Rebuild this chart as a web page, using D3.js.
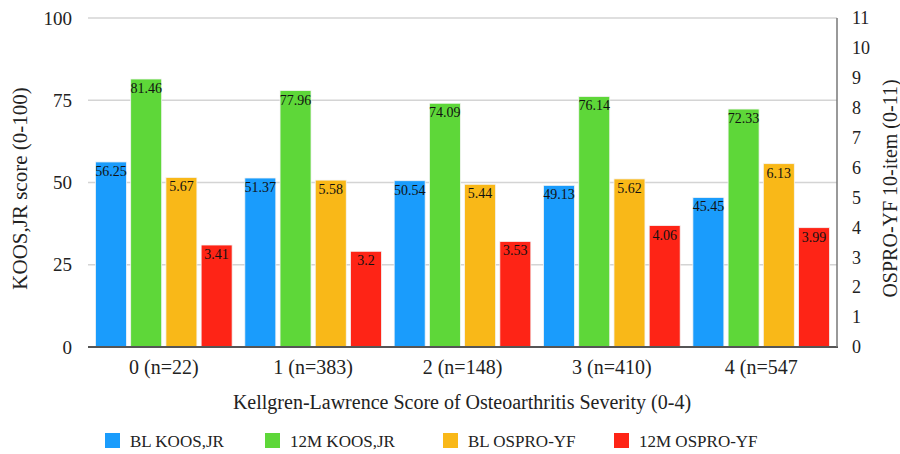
<!DOCTYPE html>
<html><head><meta charset="utf-8">
<script src="https://cdn.jsdelivr.net/npm/d3@7"></script>
<style>body{margin:0;background:#fff;} svg{display:block;} svg text{font-family:"Liberation Serif","Times New Roman",serif !important;}</style>
</head><body>
<svg id="c" width="900" height="454"></svg>
<script>
const categories = ["0 (n=22)", "1 (n=383)", "2 (n=148)", "3 (n=410)", "4 (n=547"];
const seriesNames = ["BL KOOS,JR", "12M KOOS,JR", "BL OSPRO-YF", "12M OSPRO-YF"];
const seriesColors = ["#1a9cfc", "#5ed739", "#f9b818", "#fe2416"];
const seriesAxis = ["left", "left", "right", "right"];
const blKoos = [56.25, 51.37, 50.54, 49.13, 45.45];
const m12Koos = [81.46, 77.96, 74.09, 76.14, 72.33];
const blOspro = [5.67, 5.58, 5.44, 5.62, 6.13];
const m12Ospro = [3.41, 3.2, 3.53, 4.06, 3.99];
const leftTicks = [0, 25, 50, 75, 100];
const rightTicks = [0,1,2,3,4,5,6,7,8,9,10,11];
const seriesValues = [blKoos, m12Koos, blOspro, m12Ospro];

const FONT = "Liberation Serif";
const svg = d3.select("#c");
const L = 88, R = 837, T = 18, B = 347;
const yL = d3.scaleLinear().domain([0, 100]).range([B, T]);
const yR = d3.scaleLinear().domain([0, 11]).range([B, T]);
const x0 = d3.scaleBand().domain(categories).range([L, R]).paddingInner(0.085).paddingOuter(0.05);
const x1 = d3.scaleBand().domain(seriesNames).range([0, x0.bandwidth()]).paddingInner(0.12);

// gridlines
svg.append("g").selectAll("line").data(leftTicks.filter(d => d > 0)).join("line")
  .attr("x1", L).attr("x2", R).attr("y1", d => yL(d)).attr("y2", d => yL(d))
  .attr("stroke", "#d4d4d4").attr("stroke-width", 1.5);

// bars
const groups = svg.append("g").selectAll("g").data(categories).join("g")
  .attr("transform", d => `translate(${x0(d)},0)`);
groups.each(function(cat, ci) {
  const g = d3.select(this);
  seriesNames.forEach((s, si) => {
    const v = seriesValues[si][ci];
    const y = seriesAxis[si] === "left" ? yL : yR;
    g.append("rect").attr("x", x1(s)).attr("width", x1.bandwidth())
      .attr("y", y(v)).attr("height", B - y(v))
      .attr("fill", seriesColors[si]).attr("stroke", "#f4f4f4").attr("stroke-width", 0.8);
    g.append("text").attr("x", x1(s) + x1.bandwidth() / 2).attr("y", y(v) + 14)
      .attr("text-anchor", "middle").style("font-family", FONT).attr("font-size", 14).attr("fill", "#111").text(v);
  });
});

// axes lines
svg.append("line").attr("x1", L).attr("x2", R + 1).attr("y1", B).attr("y2", B).attr("stroke", "#555").attr("stroke-width", 2);
svg.append("line").attr("x1", R).attr("x2", R).attr("y1", T).attr("y2", B).attr("stroke", "#777").attr("stroke-width", 1.5);

// left axis
const gl = svg.append("g").attr("transform", `translate(${L},0)`)
  .call(d3.axisLeft(yL).tickValues(leftTicks).tickSize(0).tickPadding(16));
gl.select(".domain").remove();
gl.selectAll("text").attr("font-size", 19).attr("fill", "#222").style("font-family", FONT);

// right axis
const gr = svg.append("g").attr("transform", `translate(${R},0)`)
  .call(d3.axisRight(yR).tickValues(rightTicks).tickSize(0).tickPadding(15));
gr.select(".domain").remove();
gr.selectAll("text").attr("font-size", 18).attr("fill", "#222").style("font-family", FONT);

// x axis labels
const gx = svg.append("g").attr("transform", `translate(0,${B})`)
  .call(d3.axisBottom(x0).tickSize(0).tickPadding(13));
gx.select(".domain").remove();
gx.selectAll("text").attr("font-size", 20).attr("fill", "#222").style("font-family", FONT);

// titles
svg.append("text").attr("x", 462).attr("y", 409).attr("text-anchor", "middle").style("font-family", FONT)
  .attr("font-size", 20).attr("fill", "#222").text("Kellgren-Lawrence Score of Osteoarthritis Severity (0-4)");
svg.append("text").attr("transform", `translate(27,${(T + B) / 2 + 6}) rotate(-90)`).attr("text-anchor", "middle")
  .style("font-family", FONT).attr("font-size", 21).attr("fill", "#222").text("KOOS,JR score (0-100)");
svg.append("text").attr("transform", `translate(897,${(T + B) / 2 + 6}) rotate(-90)`).attr("text-anchor", "middle")
  .style("font-family", FONT).attr("font-size", 20).attr("fill", "#222").text("OSPRO-YF 10-item (0-11)");

// legend
const legX = [105, 265, 443, 614];
const leg = svg.append("g").selectAll("g").data(seriesNames).join("g")
  .attr("transform", (d, i) => `translate(${legX[i]},433)`);
leg.append("rect").attr("width", 15).attr("height", 15).attr("fill", (d, i) => seriesColors[i]);
leg.append("text").attr("x", 25).attr("y", 13.5).style("font-family", FONT).attr("font-size", 17).attr("fill", "#222").text(d => d);
</script>
</body></html>
